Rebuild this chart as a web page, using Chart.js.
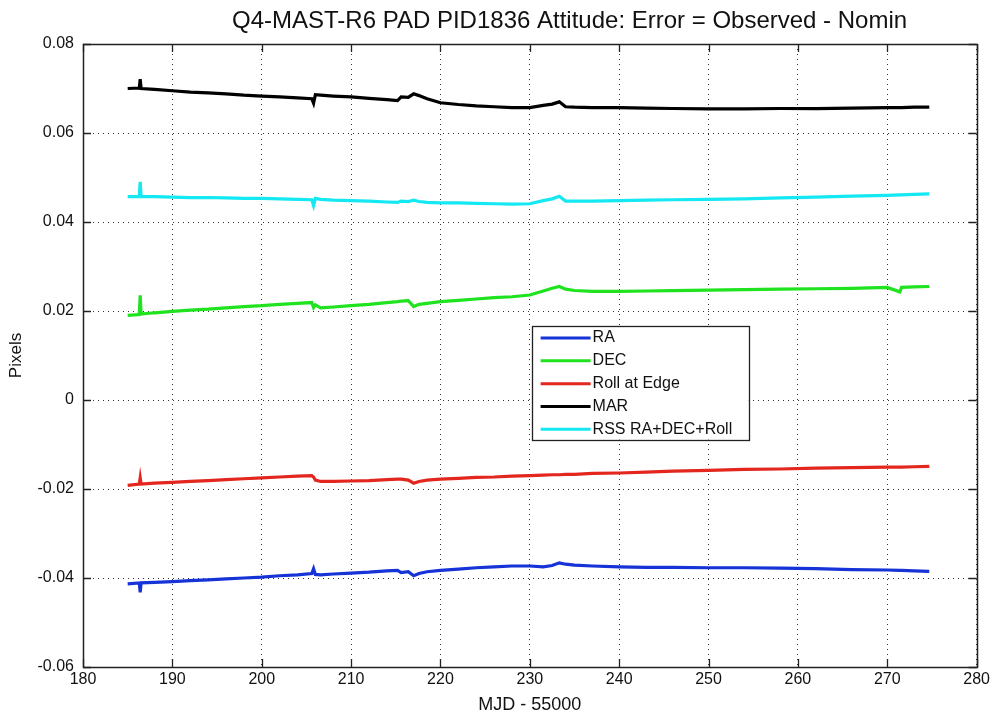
<!DOCTYPE html>
<html>
<head>
<meta charset="utf-8">
<script src="https://cdn.jsdelivr.net/npm/chart.js@4.4.1/dist/chart.umd.min.js"></script>
<style>
html,body{margin:0;padding:0;background:#fff;}
#wrap{width:993px;height:719px;}
</style>
</head>
<body>
<div id="wrap"><canvas id="c" width="993" height="719"></canvas></div>
<script>
const titleText = "Q4-MAST-R6 PAD PID1836 Attitude: Error = Observed - Nomin";
const xLabel = "MJD - 55000";
const yLabel = "Pixels";
const seriesNames = ["RA", "DEC", "Roll at Edge", "MAR", "RSS RA+DEC+Roll"];
const seriesColors = ["#1533d6", "#1ee31e", "#e3261e", "#000000", "#14e8f2"];

const mjd = [185.0, 186.3, 186.4, 186.5, 188, 190, 192, 194, 196, 198, 200, 202, 204, 205.6, 205.8, 206.0, 206.6, 208, 210, 212, 214, 215.2, 215.6, 216.4, 217.0, 217.6, 218.5, 220, 222, 224, 226, 228, 230, 231.5, 232.5, 233.3, 234.0, 235, 237, 240, 243, 246, 250, 254, 258, 262, 266, 270, 271.4, 271.6, 273, 274.7];

const ra = [-0.0413, -0.0411, -0.0432, -0.0411, -0.0410, -0.0408, -0.0406, -0.0404, -0.0402, -0.0400, -0.0398, -0.0395, -0.0393, -0.0390, -0.0379, -0.0392, -0.0393, -0.0391, -0.0389, -0.0387, -0.0384, -0.0383, -0.0388, -0.0386, -0.0395, -0.0390, -0.0386, -0.0383, -0.0380, -0.0377, -0.0375, -0.0373, -0.0373, -0.0375, -0.0372, -0.0366, -0.0369, -0.0371, -0.0373, -0.0375, -0.0376, -0.0376, -0.0377, -0.0377, -0.0378, -0.0379, -0.0381, -0.0382, -0.0383, -0.0383, -0.0384, -0.0385];

const dec = [0.0190, 0.0192, 0.0235, 0.0193, 0.0196, 0.0199, 0.0202, 0.0204, 0.0207, 0.0210, 0.0212, 0.0215, 0.0217, 0.0219, 0.0208, 0.0214, 0.0207, 0.0209, 0.0212, 0.0215, 0.0219, 0.0221, 0.0222, 0.0223, 0.0210, 0.0215, 0.0217, 0.0221, 0.0224, 0.0227, 0.0230, 0.0232, 0.0236, 0.0245, 0.0251, 0.0255, 0.0249, 0.0246, 0.0244, 0.0244, 0.0245, 0.0246, 0.0247, 0.0248, 0.0249, 0.0250, 0.0251, 0.0253, 0.0243, 0.0253, 0.0254, 0.0255];

const roll = [-0.0192, -0.0189, -0.0175, -0.0189, -0.0187, -0.0185, -0.0183, -0.0181, -0.0179, -0.0177, -0.0175, -0.0173, -0.0171, -0.0170, -0.0173, -0.0180, -0.0183, -0.0183, -0.0182, -0.0181, -0.0179, -0.0178, -0.0178, -0.0180, -0.0187, -0.0183, -0.0180, -0.0178, -0.0176, -0.0174, -0.0173, -0.0171, -0.0170, -0.0169, -0.0168, -0.0168, -0.0167, -0.0167, -0.0165, -0.0164, -0.0162, -0.0160, -0.0158, -0.0156, -0.0155, -0.0153, -0.0152, -0.0151, -0.0151, -0.0151, -0.0150, -0.0149];

const mar = [0.0700, 0.0701, 0.0721, 0.0700, 0.0698, 0.0695, 0.0692, 0.0690, 0.0688, 0.0685, 0.0683, 0.0681, 0.0679, 0.0677, 0.0667, 0.0686, 0.0685, 0.0683, 0.0681, 0.0678, 0.0675, 0.0673, 0.0681, 0.0680, 0.0688, 0.0684, 0.0677, 0.0668, 0.0664, 0.0661, 0.0659, 0.0657, 0.0657, 0.0662, 0.0665, 0.0670, 0.0659, 0.0658, 0.0657, 0.0657, 0.0656, 0.0655, 0.0654, 0.0654, 0.0655, 0.0655, 0.0656, 0.0657, 0.0657, 0.0657, 0.0658, 0.0658];

const rss = [0.0457, 0.0457, 0.0490, 0.0457, 0.0457, 0.0456, 0.0455, 0.0455, 0.0454, 0.0453, 0.0453, 0.0452, 0.0451, 0.0450, 0.0437, 0.0453, 0.0451, 0.0449, 0.0448, 0.0447, 0.0445, 0.0444, 0.0447, 0.0446, 0.0449, 0.0446, 0.0444, 0.0443, 0.0443, 0.0442, 0.0441, 0.0440, 0.0441, 0.0448, 0.0452, 0.0458, 0.0447, 0.0447, 0.0447, 0.0448, 0.0449, 0.0450, 0.0451, 0.0452, 0.0454, 0.0456, 0.0458, 0.0460, 0.0461, 0.0461, 0.0462, 0.0463];

const xMin = 180, xMax = 280, xStep = 10;
const yMin = -0.06, yMax = 0.08, yStep = 0.02;

const seriesValues = [ra, dec, roll, mar, rss];
const FONT = "'Liberation Sans', Arial, Helvetica, sans-serif";

const datasets = seriesValues.map((vals, i) => ({
  label: seriesNames[i],
  data: mjd.map((x, j) => ({x: x, y: vals[j]})),
  borderColor: seriesColors[i],
  backgroundColor: seriesColors[i],
  borderWidth: 3.2,
  pointRadius: 0,
  tension: 0,
  fill: false
}));

const matlabAxes = {
  id: 'matlabAxes',
  afterDatasetsDraw(chart) {
    const ctx = chart.ctx;
    const a = chart.chartArea;
    const xs = chart.scales.x, ys = chart.scales.y;
    ctx.save();
    ctx.strokeStyle = '#222';
    ctx.lineWidth = 1.3;
    const tl = 8;
    ctx.beginPath();
    xs.ticks.forEach(t => {
      const px = Math.round(xs.getPixelForValue(t.value)) + 0.5;
      ctx.moveTo(px, a.bottom); ctx.lineTo(px, a.bottom - tl);
      ctx.moveTo(px, a.top); ctx.lineTo(px, a.top + tl);
    });
    ys.ticks.forEach(t => {
      const py = Math.round(ys.getPixelForValue(t.value)) + 0.5;
      ctx.moveTo(a.left, py); ctx.lineTo(a.left + tl, py);
      ctx.moveTo(a.right, py); ctx.lineTo(a.right - tl, py);
    });
    ctx.stroke();
    ctx.lineWidth = 1.5;
    ctx.strokeRect(Math.round(a.left) + 0.5, Math.round(a.top) + 0.5, Math.round(a.right - a.left), Math.round(a.bottom - a.top));
    ctx.restore();
  },
  afterDraw(chart) {
    const ctx = chart.ctx;
    const xs = chart.scales.x, ys = chart.scales.y;
    ctx.save();
    // title (clipped as in the original figure)
    ctx.font = "24px " + FONT;
    ctx.fillStyle = '#111';
    ctx.textBaseline = 'middle';
    ctx.textAlign = 'left';
    ctx.fillText(chart.options.plugins.title.text, 232, 21);
    // legend box placed in data coordinates of the axes
    const lx0 = xs.getPixelForValue(230.2), lx1 = xs.getPixelForValue(254.5);
    const ly0 = ys.getPixelForValue(0.0167), ly1 = ys.getPixelForValue(-0.0089);
    ctx.fillStyle = '#fff';
    ctx.fillRect(lx0, ly0, lx1 - lx0, ly1 - ly0);
    ctx.strokeStyle = '#222';
    ctx.lineWidth = 1.3;
    ctx.strokeRect(Math.round(lx0) + 0.5, Math.round(ly0) + 0.5, Math.round(lx1 - lx0), Math.round(ly1 - ly0));
    const rowH = (ly1 - ly0) / chart.data.datasets.length;
    ctx.font = "16px " + FONT;
    chart.data.datasets.forEach((ds, i) => {
      const cy = ly0 + rowH * (i + 0.5) + 1;
      ctx.strokeStyle = ds.borderColor;
      ctx.lineWidth = 3;
      ctx.beginPath();
      ctx.moveTo(lx0 + 9, cy); ctx.lineTo(lx0 + 59, cy);
      ctx.stroke();
      ctx.fillStyle = '#111';
      ctx.fillText(ds.label, lx0 + 61, cy);
    });
    ctx.restore();
  }
};

new Chart(document.getElementById('c'), {
  type: 'line',
  data: { datasets: datasets },
  options: {
    responsive: false,
    animation: false,
    events: [],
    layout: { padding: { left: 0, right: 16, top: 44, bottom: 0 } },
    plugins: {
      legend: { display: false },
      tooltip: { enabled: false },
      title: { display: false, text: titleText }
    },
    scales: {
      x: {
        type: 'linear',
        min: xMin, max: xMax,
        afterFit(scale) { scale.height = 52; },
        ticks: { stepSize: xStep, color: '#111', padding: 3, maxRotation: 0, font: { family: FONT, size: 16 } },
        grid: { color: '#333', lineWidth: 1, drawTicks: false, borderDash: [1, 4] },
        border: { display: false, dash: [1, 4] },
        title: { display: true, text: xLabel, color: '#111', font: { family: FONT, size: 18 }, padding: { top: 2, bottom: 3 } }
      },
      y: {
        type: 'linear',
        min: yMin, max: yMax,
        afterFit(scale) { scale.width = 83; },
        ticks: {
          stepSize: yStep, color: '#111', padding: 9, font: { family: FONT, size: 16 },
          callback: v => Math.abs(v) < 1e-9 ? '0' : v.toFixed(2)
        },
        grid: { color: '#333', lineWidth: 1, drawTicks: false, borderDash: [1, 4] },
        border: { display: false, dash: [1, 4] },
        title: { display: true, text: yLabel, color: '#111', font: { family: FONT, size: 17 }, padding: { top: 6, bottom: 0 } }
      }
    }
  },
  plugins: [matlabAxes]
});
</script>
</body>
</html>
